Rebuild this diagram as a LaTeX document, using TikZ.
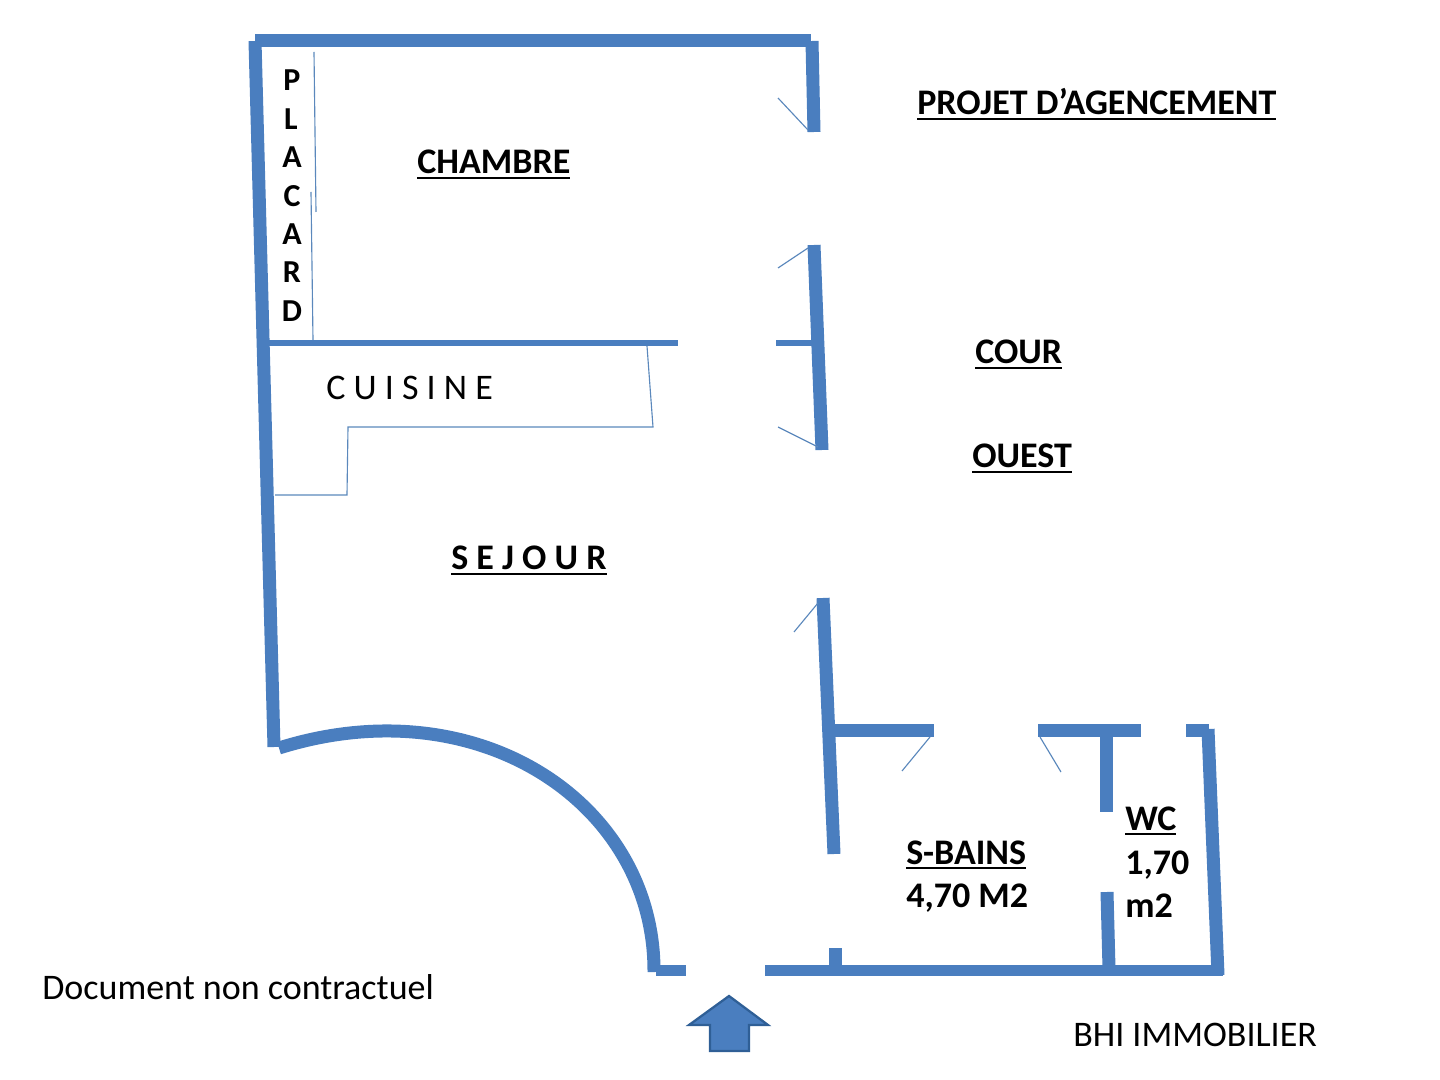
\documentclass[tikz,border=0pt]{standalone}
\usepackage{fontspec}
\setmainfont{Carlito}
\newsavebox{\ulbox}
\newcommand{\ulx}[1]{\sbox{\ulbox}{#1}\rlap{\usebox{\ulbox}}\rule[-3.6pt]{\wd\ulbox}{1.5pt}}
\definecolor{wallblue}{HTML}{4A7EBF}
\definecolor{arrowedge}{HTML}{2F5F96}
\definecolor{thinblue}{HTML}{5B88BC}
\tikzset{
  wall/.style={draw=wallblue,line width=#1*0.75pt,line cap=butt},
  thin wall/.style={draw=thinblue,line width=0.85pt},
  label/.style={anchor=base west,inner sep=0pt,font=\fontsize{27pt}{27pt}\selectfont\bfseries,text=black},
  plain label/.style={anchor=base west,inner sep=0pt,font=\fontsize{27pt}{27pt}\selectfont,text=black},
  letter/.style={anchor=base,inner sep=0pt,font=\fontsize{24pt}{24pt}\selectfont\bfseries,text=black},
}
\begin{document}
\begin{tikzpicture}[x=0.75pt,y=-0.75pt]
\useasboundingbox (0,0) rectangle (1440,1080);
% outer walls
\draw[wall=13] (255,41) -- (811,41);
\draw[wall=13] (255,41) -- (274,747);
\draw[wall=13] (812,41) -- (814,132);
\draw[wall=13] (814,245) -- (822,450);
\draw[wall=6] (268,343) -- (678,343);
\draw[wall=6] (776,343) -- (822,343);
\draw[wall=13] (823,598) -- (834,854);
\draw[wall=13] (830,730) -- (934,730);
\draw[wall=13] (1038,730) -- (1141,730);
\draw[wall=13] (1186,730) -- (1209,730);
\draw[wall=13] (1208,729) -- (1218,975);
\draw[wall=11] (765,970) -- (1223,970);
\draw[wall=11] (656,970) -- (686,970);
\draw[wall=13] (835,948) -- (835,970);
\draw[wall=13] (1106,735) -- (1106,812);
\draw[wall=13] (1107,892) -- (1109,968);
\draw[wall=13] (279,748) .. controls (480,685) and (655,805) .. (654,972);
% door leaves
\draw[thin wall] (778,98) -- (808,130);
\draw[thin wall] (778,268) -- (808,248);
\draw[thin wall] (778,427) -- (818,447);
\draw[thin wall] (794,632) -- (818,603);
\draw[thin wall] (902,771) -- (930,737);
\draw[thin wall] (1040,737) -- (1061,772);
% placard
\draw[thin wall] (314,52) -- (316,212);
\draw[thin wall] (311,192) -- (313,340);
% kitchen counter
\draw[thin wall] (647,346) -- (653,427) -- (348,427) -- (347,495) -- (275,495);
% entrance arrow
\draw[fill=wallblue,draw=arrowedge,line width=1.7pt,line join=miter]
  (729,996) -- (768,1025) -- (749,1025) -- (749,1051) -- (710,1051) -- (710,1025) -- (689,1025) -- cycle;
% labels
\node[label] (projet) at (917,115) {\ulx{PROJET D’AGENCEMENT}};
\node[label] (chambre) at (417,174) {\ulx{CHAMBRE}};
\node[label] (cour) at (975,364) {\ulx{COUR}};
\node[label] (ouest) at (972,468) {\ulx{OUEST}};
\node[label] (sejour) at (451,570) {\ulx{S E J O U R}};
\node[plain label] (cuisine) at (326,400) {C U I S I N E};
\node[label] (sbains) at (906,864) {\ulx{S-BAINS}};
\node[label] (sbainsm) at (906,907) {4,70 M2};
\node[label] (wc) at (1125,830) {\ulx{WC}};
\node[label] (wcm) at (1125,874) {1,70};
\node[label] (wcmm) at (1125,917) {m2};
\node[plain label] (doc) at (42,999) {Document non contractuel};
\node[plain label] (bhi) at (1073,1046) {BHI IMMOBILIER};
\node[letter] (p1) at (292,91) {P};
\node[letter] (p2) at (291,130) {L};
\node[letter] (p3) at (292,168) {A};
\node[letter] (p4) at (292,207) {C};
\node[letter] (p5) at (292,245) {A};
\node[letter] (p6) at (292,283) {R};
\node[letter] (p7) at (292,322) {D};
\end{tikzpicture}
\end{document}
